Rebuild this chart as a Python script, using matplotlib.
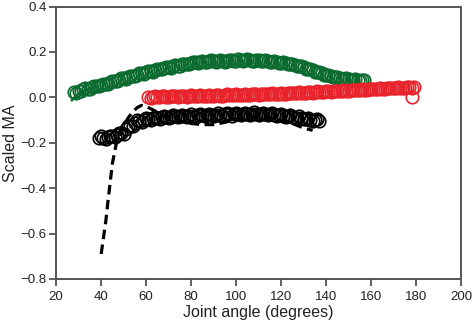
import matplotlib
matplotlib.use("Agg")
import matplotlib.pyplot as plt

# Green series (open circles), two overlapping trials
green_x = [28, 30, 32, 34, 36, 38, 40, 42, 44, 46, 48, 50, 52, 54, 56, 58, 60, 62, 64, 66,
           68, 70, 72, 74, 76, 78, 80, 82, 84, 86, 88, 90, 92, 94, 96, 98, 100, 102, 104, 106,
           108, 110, 112, 114, 116, 118, 120, 122, 124, 126, 128, 130, 132, 134, 136, 138, 140,
           142, 144, 146, 148, 150, 152, 154, 156]
green_y = [0.025, 0.03, 0.035, 0.038, 0.045, 0.05, 0.056, 0.06, 0.068, 0.072, 0.078, 0.085,
           0.09, 0.095, 0.10, 0.108, 0.112, 0.118, 0.122, 0.127, 0.13, 0.134, 0.138, 0.14,
           0.145, 0.148, 0.152, 0.154, 0.156, 0.158, 0.16, 0.16, 0.162, 0.161, 0.162, 0.163,
           0.162, 0.164, 0.163, 0.164, 0.162, 0.163, 0.161, 0.16, 0.158, 0.156, 0.153, 0.15,
           0.146, 0.142, 0.138, 0.132, 0.126, 0.12, 0.113, 0.107, 0.10, 0.095, 0.09, 0.087,
           0.083, 0.08, 0.078, 0.076, 0.075]
green2_x = [29, 31, 33, 35, 37, 39, 41, 43, 45, 47, 49, 51, 53, 55, 57, 59, 61, 63, 65, 67,
            69, 71, 73, 75, 77, 79, 81, 83, 85, 87, 89, 91, 93, 95, 97, 99, 101, 103, 105, 107,
            109, 111, 113, 115, 117, 119, 121, 123, 125, 127, 129, 131, 133, 135, 137, 139, 141,
            143, 145, 147, 149, 151, 153, 155, 157]
green2_y = [0.02, 0.03, 0.04, 0.036, 0.05, 0.048, 0.06, 0.058, 0.072, 0.07, 0.084, 0.08,
            0.095, 0.092, 0.106, 0.104, 0.117, 0.114, 0.127, 0.124, 0.135, 0.131, 0.142,
            0.139, 0.149, 0.146, 0.155, 0.151, 0.159, 0.155, 0.163, 0.157, 0.165, 0.158,
            0.166, 0.159, 0.167, 0.16, 0.167, 0.16, 0.166, 0.159, 0.164, 0.156, 0.16, 0.151,
            0.155, 0.145, 0.148, 0.137, 0.139, 0.126, 0.127, 0.113, 0.113, 0.10, 0.10, 0.09,
            0.091, 0.083, 0.084, 0.077, 0.079, 0.073, 0.076]

# Green model line (mostly hidden)
green_line_x = [27, 29, 31, 34, 38]
green_line_y = [-0.012, 0.008, 0.022, 0.035, 0.05]

# Red series (open circles), two overlapping trials
red_x = [61, 63, 65, 67, 69, 71, 73, 75, 77, 79, 81, 83, 85, 87, 89, 91, 93, 95, 97, 99,
         101, 103, 105, 107, 109, 111, 113, 115, 117, 119, 121, 123, 125, 127, 129, 131, 133,
         135, 137, 139, 141, 143, 145, 147, 149, 151, 153, 155, 157, 159, 161, 163, 165, 167,
         169, 171, 173, 175, 177, 179, 178]
red_y = [0.002, 0.003, 0.002, 0.004, 0.003, 0.004, 0.004, 0.005, 0.004, 0.006, 0.005, 0.007,
         0.006, 0.008, 0.007, 0.009, 0.008, 0.01, 0.01, 0.011, 0.011, 0.012, 0.012, 0.013,
         0.013, 0.014, 0.015, 0.015, 0.016, 0.017, 0.017, 0.018, 0.019, 0.02, 0.02, 0.021,
         0.022, 0.023, 0.024, 0.025, 0.026, 0.027, 0.028, 0.029, 0.03, 0.031, 0.032, 0.033,
         0.034, 0.035, 0.037, 0.038, 0.039, 0.04, 0.041, 0.042, 0.043, 0.043, 0.044, 0.045,
         0.0]
red2_x = [62, 64, 66, 68, 70, 72, 74, 76, 78, 80, 82, 84, 86, 88, 90, 92, 94, 96, 98, 100,
          102, 104, 106, 108, 110, 112, 114, 116, 118, 120, 122, 124, 126, 128, 130, 132, 134,
          136, 138, 140, 142, 144, 146, 148, 150, 152, 154, 156, 158, 160, 162, 164, 166, 168,
          170, 172, 174, 176, 178]
red2_y = [-0.002, 0.005, 0.0, 0.006, 0.001, 0.007, 0.002, 0.008, 0.003, 0.009, 0.004, 0.01,
          0.005, 0.011, 0.006, 0.012, 0.008, 0.013, 0.009, 0.014, 0.01, 0.015, 0.011, 0.016,
          0.012, 0.017, 0.013, 0.018, 0.015, 0.02, 0.016, 0.021, 0.018, 0.023, 0.019, 0.024,
          0.021, 0.026, 0.023, 0.028, 0.025, 0.03, 0.027, 0.032, 0.029, 0.034, 0.031, 0.036,
          0.034, 0.039, 0.036, 0.041, 0.038, 0.043, 0.04, 0.045, 0.042, 0.046, 0.043]

# Black series (open circles), two overlapping trials
black_x = [39, 41, 43, 45, 47, 49, 51, 53, 55, 57, 59, 61, 63, 65, 67, 69, 71, 73, 75, 77,
           79, 81, 83, 85, 87, 89, 91, 93, 95, 97, 99, 101, 103, 105, 107, 109, 111, 113, 115,
           117, 119, 121, 123, 125, 127, 129, 131, 133, 135, 137]
black_y = [-0.177, -0.178, -0.176, -0.172, -0.165, -0.155, -0.14, -0.125, -0.112, -0.105,
           -0.1, -0.096, -0.093, -0.09, -0.088, -0.086, -0.085, -0.083, -0.082, -0.081,
           -0.08, -0.08, -0.079, -0.078, -0.078, -0.077, -0.076, -0.076, -0.075, -0.074,
           -0.074, -0.073, -0.072, -0.072, -0.071, -0.072, -0.072, -0.073, -0.074, -0.076,
           -0.078, -0.08, -0.083, -0.086, -0.089, -0.092, -0.095, -0.098, -0.1, -0.103]
black2_x = [40, 42, 44, 46, 48, 50, 52, 54, 56, 58, 60, 62, 64, 66, 68, 70, 72, 74, 76, 78,
            80, 82, 84, 86, 88, 90, 92, 94, 96, 98, 100, 102, 104, 106, 108, 110, 112, 114,
            116, 118, 120, 122, 124, 126, 128, 130, 132, 134, 136]
black2_y = [-0.172, -0.182, -0.17, -0.175, -0.155, -0.16, -0.128, -0.125, -0.1, -0.11,
            -0.09, -0.1, -0.086, -0.095, -0.082, -0.091, -0.079, -0.088, -0.077, -0.086,
            -0.075, -0.085, -0.073, -0.084, -0.072, -0.082, -0.07, -0.081, -0.069, -0.08,
            -0.068, -0.079, -0.067, -0.078, -0.066, -0.078, -0.067, -0.079, -0.069, -0.082,
            -0.073, -0.086, -0.078, -0.091, -0.084, -0.097, -0.09, -0.103, -0.097]

# Black dashed model line
dash_x = [40, 42, 43, 45, 47, 50, 52, 54, 56, 58, 60, 63, 66, 70, 75, 80, 85, 90, 95, 100,
          105, 110, 115, 120, 125, 130, 134]
dash_y = [-0.69, -0.55, -0.46, -0.29, -0.19, -0.125, -0.09, -0.065, -0.045, -0.035, -0.04,
          -0.055, -0.07, -0.09, -0.105, -0.115, -0.12, -0.12, -0.11, -0.095, -0.085, -0.085,
          -0.09, -0.10, -0.115, -0.135, -0.145]

x_ticks = [20, 40, 60, 80, 100, 120, 140, 160, 180, 200]
y_ticks = [-0.8, -0.6, -0.4, -0.2, 0.0, 0.2, 0.4]

GREEN = "#0b6b2f"
RED = "#e8232b"

plt.rcParams['font.family'] = ['Liberation Sans', 'DejaVu Sans']

fig = plt.figure(figsize=(4.72, 3.29), dpi=100)
ax = fig.add_axes([0.119, 0.152, 0.858, 0.828])

ms = 9
mew = 1.2
ax.plot(green_line_x, green_line_y, color=GREEN, lw=1.8, zorder=1)
for xs, ys, c in [(green_x, green_y, GREEN), (green2_x, green2_y, GREEN),
                  (red_x, red_y, RED), (red2_x, red2_y, RED),
                  (black_x, black_y, 'black'), (black2_x, black2_y, 'black')]:
    ax.plot(xs, ys, 'o', mfc='none', mec=c, ms=ms, mew=mew, zorder=2)
ax.plot(dash_x, dash_y, color='black', lw=2.3, dashes=(3.0, 1.7), zorder=3)

ax.set_xlim(20, 200)
ax.set_ylim(-0.8, 0.4)
ax.set_xticks(x_ticks)
ax.set_yticks(y_ticks)
ax.set_yticklabels([f"{v:.1f}".replace('-', '\u2212') for v in y_ticks])
ax.tick_params(direction='out', length=5, width=1.2, color='#444444', labelsize=9.5,
               labelcolor='#222222')
ax.tick_params(axis='x', pad=4)
ax.tick_params(axis='y', pad=2)
for s in ax.spines.values():
    s.set_color('#555555')
    s.set_linewidth(1.4)
ax.set_xlabel("Joint angle (degrees)", fontsize=11.5, color='#222222', labelpad=1)
ax.set_ylabel("Scaled MA", fontsize=11.5, color='#222222', labelpad=2)

fig.savefig("out.png", dpi=100)
